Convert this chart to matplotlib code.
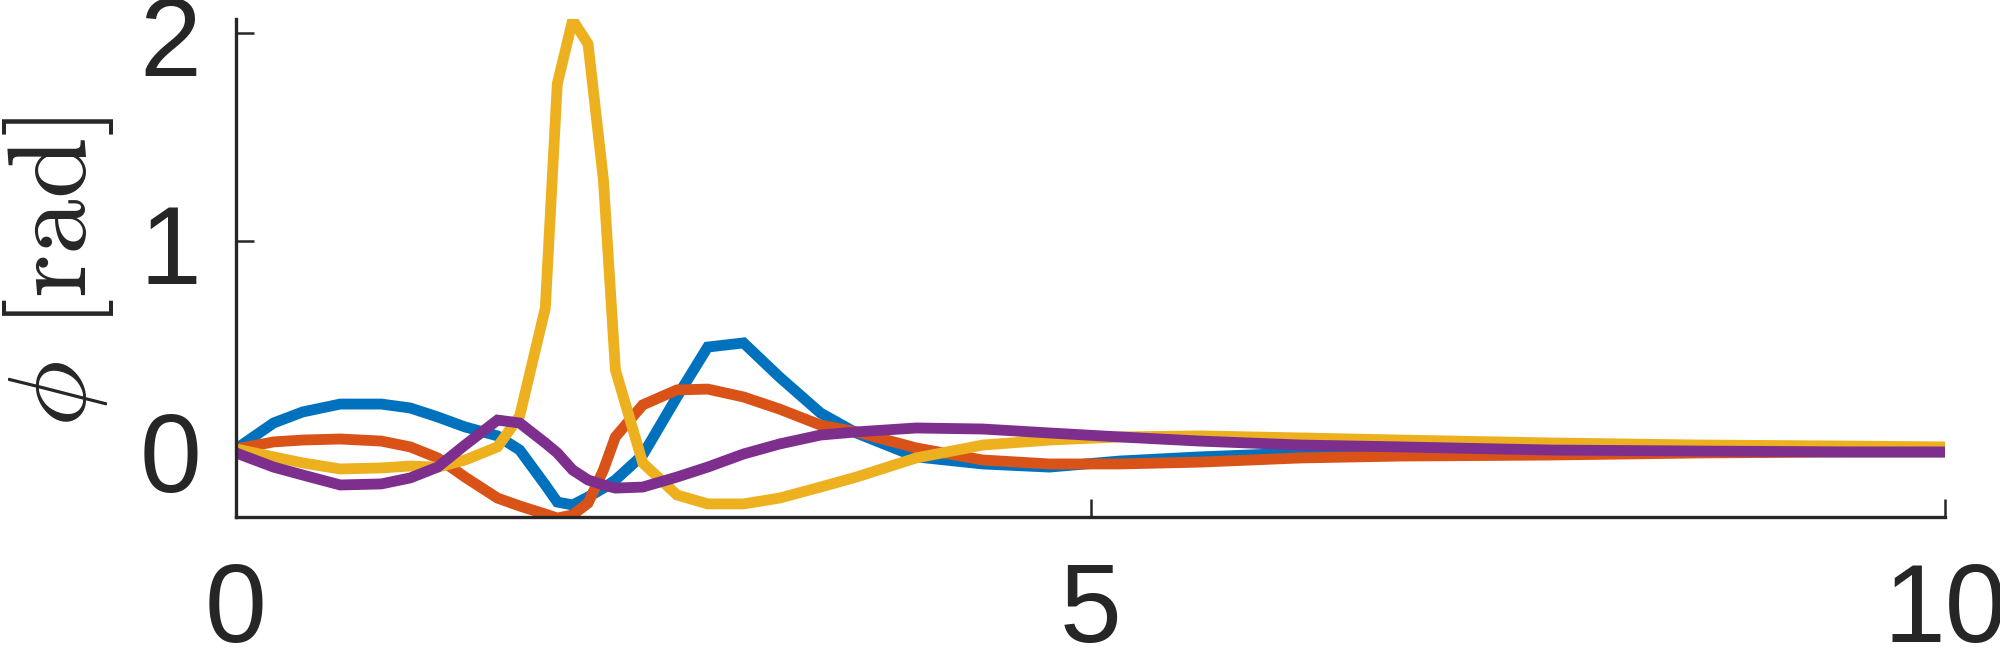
import matplotlib
matplotlib.use("Agg")
import matplotlib.pyplot as plt
from matplotlib.transforms import ScaledTranslation

# time samples (s)
t = [0.00, 0.22, 0.39, 0.61, 0.85, 1.02, 1.18, 1.34, 1.53, 1.66, 1.81, 1.88,
     1.97, 2.06, 2.15, 2.22, 2.38, 2.58, 2.76, 2.97, 3.18, 3.42, 3.63, 3.98,
     4.37, 4.76, 5.17, 5.64, 6.23, 6.81, 7.69, 8.57, 9.44, 10.00]

phi_1 = [0.000, 0.125, 0.178, 0.216, 0.216, 0.197, 0.154, 0.106, 0.063, -0.005,
         -0.173, -0.255, -0.269, -0.231, -0.188, -0.149, -0.029, 0.250, 0.490,
         0.510, 0.346, 0.173, 0.077, -0.038, -0.072, -0.087, -0.058, -0.038,
         -0.019, -0.014, -0.014, -0.014, -0.014, -0.014]

phi_2 = [0.000, 0.034, 0.043, 0.048, 0.038, 0.010, -0.043, -0.135, -0.236,
         -0.274, -0.313, -0.332, -0.317, -0.260, -0.101, 0.058, 0.212, 0.284,
         0.288, 0.250, 0.192, 0.115, 0.082, 0.005, -0.053, -0.072, -0.072,
         -0.063, -0.043, -0.034, -0.029, -0.019, -0.014, -0.014]

phi_3 = [0.000, -0.038, -0.067, -0.096, -0.091, -0.082, -0.087, -0.053, 0.010,
         0.159, 0.678, 1.755, 2.062, 1.947, 1.293, 0.380, -0.067, -0.221,
         -0.264, -0.264, -0.236, -0.183, -0.135, -0.043, 0.019, 0.043, 0.058,
         0.063, 0.053, 0.043, 0.029, 0.019, 0.014, 0.010]

phi_4 = [-0.019, -0.087, -0.125, -0.173, -0.168, -0.139, -0.087, 0.019, 0.139,
         0.125, 0.029, -0.019, -0.101, -0.149, -0.173, -0.188, -0.183, -0.135,
         -0.087, -0.024, 0.024, 0.067, 0.082, 0.101, 0.096, 0.077, 0.058,
         0.038, 0.019, 0.010, -0.005, -0.010, -0.014, -0.014]

series = [phi_1, phi_2, phi_3, phi_4]
colors = ["#0072BD", "#D95319", "#EDB120", "#7E2F8E"]
xticks = [0, 5, 10]
yticks = [0, 1, 2]

plt.rcParams["mathtext.fontset"] = "cm"
plt.rcParams["font.family"] = ["Liberation Sans", "DejaVu Sans"]

fig = plt.figure(figsize=(20, 6.63), dpi=100)
ax = fig.add_axes([0.118, 0.2202, 0.8545, 0.7511])

for y, c in zip(series, colors):
    ax.plot(t, y, color=c, lw=7.8, solid_joinstyle="miter", solid_capstyle="butt")

ax.set_xlim(0, 10)
ax.set_ylim(-0.327, 2.067)
ax.set_xticks(xticks)
ax.set_yticks(yticks)
ax.set_xticklabels([str(v) for v in xticks])
ax.set_yticklabels([str(v) for v in yticks])

for s in ["top", "right"]:
    ax.spines[s].set_visible(False)
for s in ["left", "bottom"]:
    ax.spines[s].set_linewidth(2.4)
    ax.spines[s].set_color("#262626")

ax.tick_params(axis="both", direction="in", length=13, width=1.8,
               colors="#262626", labelsize=80)
ax.tick_params(axis="x", pad=32)
ax.tick_params(axis="y", pad=25)

# small downward nudge of the y tick labels
shift = ScaledTranslation(0, -2 / 72, fig.dpi_scale_trans)
for lab in ax.get_yticklabels():
    lab.set_transform(lab.get_transform() + shift)

ax.set_ylabel(r"$\phi\ [\mathrm{rad}]$", fontsize=80, color="#262626",
              va="center", ha="center")
ax.yaxis.set_label_coords(-0.104, 0.492)

fig.savefig("out.png", dpi=100, facecolor="white")
